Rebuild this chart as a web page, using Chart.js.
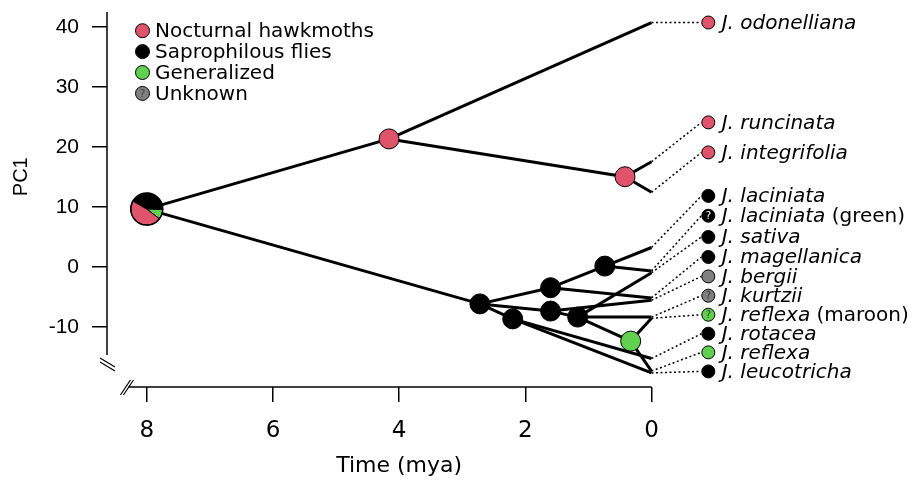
<!DOCTYPE html>
<html>
<head>
<meta charset="utf-8">
<script src="https://cdn.jsdelivr.net/npm/chart.js@4"></script>
<style>
html,body{margin:0;padding:0;background:#fff}
</style>
</head>
<body>
<canvas id="c" width="914" height="485"></canvas>
<script>
const xTicks = [0, 2, 4, 6, 8]
const yTicks = [-10, 0, 10, 20, 30, 40]

// internal nodes: age (mya), PC1, state, parent
const nodeIds = ['root', 'A', 'B', 'C', 'E', 'F', 'G', 'H', 'I', 'J']
const nodeAge = [8.00, 4.16, 0.42, 2.72, 2.20, 1.60, 1.60, 1.17, 0.74, 0.33]
const nodePC1 = [9.6, 21.3, 15.0, -6.2, -8.7, -3.5, -7.4, -8.4, 0.1, -12.4]
const nodeState = ['mixed', 'moth', 'moth', 'fly', 'fly', 'fly', 'fly', 'fly', 'fly', 'general']
const nodeParent = [null, 'root', 'A', 'root', 'C', 'C', 'C', 'G', 'F', 'H']

// root pie
const rootStates = ['fly', 'general', 'moth']
const rootShare = [0.42, 0.10, 0.48]

// tips (age 0)
const tipNames = ['J. odonelliana', 'J. runcinata', 'J. integrifolia', 'J. laciniata', 'J. laciniata', 'J. sativa', 'J. magellanica', 'J. bergii', 'J. kurtzii', 'J. reflexa', 'J. rotacea', 'J. reflexa', 'J. leucotricha']
const tipNotes = ['', '', '', '', '(green)', '', '', '', '', '(maroon)', '', '', '']
const tipPC1 = [40.7, 17.5, 12.4, 3.2, -0.7, -1.0, -5.2, -5.6, -8.4, -8.6, -15.3, -17.4, -17.7]
const tipParent = ['A', 'B', 'B', 'I', 'I', 'H', 'F', 'G', 'H', 'J', 'E', 'J', 'E']
const tipState = ['moth', 'moth', 'moth', 'fly', 'fly', 'fly', 'fly', 'unknown', 'unknown', 'general', 'fly', 'general', 'fly']
const tipUnsure = [false, false, false, false, true, false, false, false, true, true, false, false, false]
const labelPC1 = [40.7, 24.05, 19.05, 11.8, 8.5, 4.95, 1.62, -1.62, -4.83, -8.0, -11.17, -14.28, -17.45]
const labelAge = -0.9

const legendLabels = ['Nocturnal hawkmoths', 'Saprophilous flies', 'Generalized', 'Unknown']
const legendStates = ['moth', 'fly', 'general', 'unknown']

const colors = {moth: '#DF536B', fly: '#000000', general: '#61D04F', unknown: '#808080'}

function nodePos(id){
    const i = nodeIds.indexOf(id)
    return {x: nodeAge[i], y: nodePC1[i]}
}

const datasets = []

// branches
nodeIds.forEach((id, i) => {
    if (!nodeParent[i]) return
    datasets.push({type: 'line', data: [nodePos(nodeParent[i]), nodePos(id)], borderColor: '#000', borderWidth: 3, pointRadius: 0, order: 2, clip: false})
})
tipNames.forEach((name, i) => {
    datasets.push({type: 'line', data: [nodePos(tipParent[i]), {x: 0, y: tipPC1[i]}], borderColor: '#000', borderWidth: 3, pointRadius: 0, order: 2, clip: false})
    // dotted link to label
    datasets.push({type: 'line', data: [{x: 0, y: tipPC1[i]}, {x: labelAge + 0.11, y: labelPC1[i]}], borderColor: '#000', borderWidth: 1.5, borderDash: [2, 2.5], pointRadius: 0, order: 3, clip: false})
})

// internal nodes (root drawn as pie)
const inner = nodeIds.map((id, i) => i).filter(i => nodeIds[i] !== 'root')
datasets.push({
    type: 'scatter',
    data: inner.map(i => ({x: nodeAge[i], y: nodePC1[i]})),
    backgroundColor: inner.map(i => colors[nodeState[i]]),
    borderColor: '#000', borderWidth: 1, pointRadius: 10, order: 0, clip: false
})

// tip markers
datasets.push({
    type: 'scatter',
    data: labelPC1.map(v => ({x: labelAge, y: v})),
    backgroundColor: tipState.map(s => colors[s]),
    borderColor: '#000', borderWidth: 1, pointRadius: 6.5, order: 0, clip: false
})

function question(ctx, x, y, fill, size){
    ctx.save()
    ctx.fillStyle = fill
    ctx.font = size + 'px "DejaVu Sans"'
    ctx.textAlign = 'center'
    ctx.textBaseline = 'middle'
    ctx.fillText('?', x, y + 0.5)
    ctx.restore()
}

function noPadding(s){
    s.paddingTop = 0; s.paddingBottom = 0; s.paddingLeft = 0; s.paddingRight = 0
}

const treeDecor = {
    id: 'treeDecor',
    afterDatasetsDraw(chart){
        const ctx = chart.ctx
        const xs = chart.scales.x, ys = chart.scales.y
        const cx = xs.getPixelForValue(nodeAge[0]), cy = ys.getPixelForValue(nodePC1[0])
        const r = 16
        let a = -150 * Math.PI / 180
        rootStates.forEach((s, i) => {
            const b = a + rootShare[i] * Math.PI * 2
            ctx.beginPath()
            ctx.moveTo(cx, cy)
            ctx.arc(cx, cy, r, a, b)
            ctx.closePath()
            ctx.fillStyle = colors[s]
            ctx.fill()
            ctx.lineWidth = 1
            ctx.strokeStyle = '#000'
            ctx.stroke()
            a = b
        })
        ctx.beginPath()
        ctx.arc(cx, cy, r, 0, Math.PI * 2)
        ctx.lineWidth = 1.5
        ctx.stroke()
    },
    afterDraw(chart){
        const ctx = chart.ctx
        const xs = chart.scales.x, ys = chart.scales.y
        const area = chart.chartArea
        ctx.save()
        ctx.strokeStyle = '#000'
        ctx.lineWidth = 1.5

        // y axis line + break
        const yTop = ys.getPixelForValue(42.45), yBot = ys.getPixelForValue(-14.7)
        const ax = area.left
        ctx.beginPath()
        ctx.moveTo(ax, yTop); ctx.lineTo(ax, yBot)
        ctx.stroke()
        ctx.lineWidth = 1.2
        ctx.beginPath()
        ctx.moveTo(ax - 7, yBot + 3); ctx.lineTo(ax + 8, yBot + 12)
        ctx.moveTo(ax - 7, yBot + 7); ctx.lineTo(ax + 8, yBot + 16)
        ctx.stroke()

        // x axis line + break
        const xl = xs.getPixelForValue(8.29), xr = xs.getPixelForValue(0)
        const ay = area.bottom
        ctx.lineWidth = 1.5
        ctx.beginPath()
        ctx.moveTo(xl, ay); ctx.lineTo(xr, ay)
        ctx.stroke()
        ctx.lineWidth = 1.2
        ctx.beginPath()
        ctx.moveTo(xl - 8, ay + 8); ctx.lineTo(xl + 2, ay - 7)
        ctx.moveTo(xl - 5, ay + 8); ctx.lineTo(xl + 5, ay - 7)
        ctx.stroke()

        // titles
        ctx.fillStyle = '#000'
        ctx.textAlign = 'center'
        ctx.textBaseline = 'middle'
        ctx.font = '22px "DejaVu Sans"'
        ctx.fillText('Time (mya)', (xs.getPixelForValue(8) + xs.getPixelForValue(0)) / 2, 466)
        ctx.save()
        ctx.translate(21.7, (ys.getPixelForValue(-10) + ys.getPixelForValue(40)) / 2)
        ctx.rotate(-Math.PI / 2)
        ctx.font = '20px "Liberation Sans"'
        ctx.fillText('PC1', 0, 0)
        ctx.restore()

        // legend
        ctx.textAlign = 'left'
        legendLabels.forEach((lab, i) => {
            const y = 30.7 + i * 20.9
            ctx.beginPath()
            ctx.arc(142.5, y, 7, 0, Math.PI * 2)
            ctx.fillStyle = colors[legendStates[i]]
            ctx.fill()
            ctx.lineWidth = 1
            ctx.strokeStyle = '#000'
            ctx.stroke()
            if (legendStates[i] === 'unknown') question(ctx, 142.5, y, '#444', 11)
            ctx.fillStyle = '#000'
            ctx.font = '20px "DejaVu Sans"'
            ctx.fillText(lab, 155, y + 1)
        })

        // tip labels
        const px = xs.getPixelForValue(labelAge)
        tipNames.forEach((name, i) => {
            const y = ys.getPixelForValue(labelPC1[i])
            if (tipUnsure[i]) question(ctx, px, y, tipState[i] === 'fly' ? '#fff' : '#333', 10)
            ctx.fillStyle = '#000'
            ctx.textAlign = 'left'
            ctx.font = 'italic 20px "DejaVu Sans"'
            ctx.fillText(name, px + 13.4, y + 1)
            if (tipNotes[i]){
                const w = ctx.measureText(name + ' ').width
                ctx.font = '20px "DejaVu Sans"'
                ctx.fillText(tipNotes[i], px + 13.4 + w, y + 1)
            }
        })
        ctx.restore()
    }
}

new Chart(document.getElementById('c'), {
    type: 'scatter',
    data: {datasets: datasets},
    options: {
        responsive: false,
        animation: false,
        devicePixelRatio: 1,
        layout: {autoPadding: false, padding: {top: 5, right: 0, left: 0, bottom: 0}},
        plugins: {legend: {display: false}, tooltip: {enabled: false}},
        scales: {
            x: {
                type: 'linear', reverse: true, min: -4.16, max: 8.63,
                afterFit(s){ s.height = 98; noPadding(s) },
                afterBuildTicks(s){ s.ticks = xTicks.map(v => ({value: v})) },
                grid: {drawOnChartArea: false, drawTicks: true, tickLength: 15, color: '#000', lineWidth: 1.5},
                border: {display: false},
                ticks: {color: '#000', font: {family: 'DejaVu Sans', size: 23}, padding: 15, maxRotation: 0}
            },
            y: {
                type: 'linear', min: -20.05, max: 43.62,
                afterFit(s){ s.width = 107; noPadding(s) },
                afterBuildTicks(s){ s.ticks = yTicks.map(v => ({value: v})) },
                grid: {drawOnChartArea: false, drawTicks: true, tickLength: 15, color: '#000', lineWidth: 1.5},
                border: {display: false},
                ticks: {color: '#000', font: {family: 'Liberation Sans', size: 21}, padding: 13}
            }
        }
    },
    plugins: [treeDecor]
})
</script>
</body>
</html>
